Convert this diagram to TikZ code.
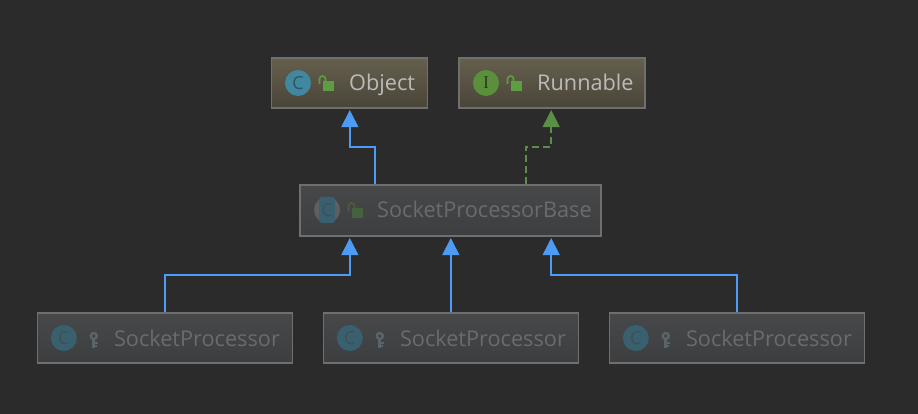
\documentclass[tikz,border=0pt]{standalone}
\usepackage{fontspec}
\setmainfont{Open Sans}
\usetikzlibrary{arrows.meta,calc}
\definecolor{bgdark}{HTML}{2B2B2B}
\definecolor{boxline}{HTML}{6F6F6F}
\definecolor{inhblue}{HTML}{4C9BF5}
\definecolor{impgreen}{HTML}{5B8F45}
\definecolor{lockgreen}{HTML}{5C9E41}
\definecolor{lockdim}{HTML}{47603F}
\definecolor{keydim}{HTML}{596569}
\definecolor{topa}{HTML}{655F4E}
\definecolor{topb}{HTML}{494537}
\definecolor{dima}{HTML}{47484A}
\definecolor{dimb}{HTML}{3C3E40}
\definecolor{clsteal}{HTML}{40879F}
\definecolor{clsink}{HTML}{2F5566}
\definecolor{ifgreen}{HTML}{5A8F3C}
\definecolor{ifink}{HTML}{2B3D20}
\definecolor{clsdim}{HTML}{38606F}
\definecolor{dimink}{HTML}{454E52}
\definecolor{badgegray}{HTML}{5E5F61}
\definecolor{namelight}{HTML}{BBBBBB}
\definecolor{namedim}{HTML}{6A6B6C}
\tikzset{
  classbox/.style={draw=boxline, line width=1.2pt, rectangle, minimum height=50pt, inner sep=0pt},
  topbox/.style={classbox, top color=topa, bottom color=topb},
  dimbox/.style={classbox, top color=dima, bottom color=dimb},
  nametext/.style={anchor=base west, inner sep=0pt, font=\fontsize{21.7}{25}\selectfont},
  badge/.style={circle, minimum size=26pt, inner sep=0pt, font=\fontsize{18}{18}\selectfont},
  extends/.style={draw=inhblue, line width=1.6pt, -{Triangle[length=17pt, width=17pt, fill=inhblue]}},
  realizes/.style={draw=impgreen, line width=1.6pt, dash pattern=on 7pt off 4pt, -{Triangle[length=17pt, width=17pt, fill=impgreen]}},
  pics/openlock/.style={code={
    \fill[#1] (0,-2) rectangle (11,8);
    \draw[#1, line width=1.6pt] (-3.5,1) -- (-3.5,-4) arc[start angle=-180, end angle=0, radius=3] -- (2.5,-2);
  }},
  pics/keyicon/.style={code={
    \draw[keydim, line width=2.4pt] (0,-3) circle[radius=3];
    \fill[keydim] (-1.5,0) rectangle (1.5,9);
    \fill[keydim] (1,3) rectangle (4.5,5);
    \fill[keydim] (1,6) rectangle (3.5,8);
  }}
}
\begin{document}
\begin{tikzpicture}[x=1pt, y=-1pt]
\useasboundingbox[fill=bgdark] (0,0) rectangle (918,414);
% upper row
\node[topbox, minimum width=156pt] (object) at (349.5,83) {};
\node[topbox, minimum width=186pt] (runnable) at (552,83) {};
\node[badge, fill=clsteal, text=clsink] (objectc) at (298,83) {C};
\node[badge, fill=ifgreen, text=ifink] (runnablei) at (486,83) {\fontspec{Liberation Serif}I};
\pic at (323,83) {openlock=lockgreen};
\pic at (511,83) {openlock=lockgreen};
\node[nametext, text=namelight] (objectname) at (349,91) {Object};
\node[nametext, text=namelight] (runnablename) at (537,91) {Runnable};
% middle
\node[dimbox, minimum width=301pt, minimum height=51pt] (base) at (450.5,210.5) {};
\fill[badgegray] (327,210) circle[radius=13];
\fill[clsdim, rounded corners=3pt] (319,197) rectangle (335,223);
\node[inner sep=0pt, font=\fontsize{18}{18}\selectfont, text=dimink] (basec) at (327,210) {C};
\pic at (352,210) {openlock=lockdim};
\node[nametext, text=namedim] (basename) at (377,218) {SocketProcessorBase};
% lower row
\foreach \n/\cx in {1/164.8, 2/450.8, 3/736.8} {
  \node[dimbox, minimum width=255pt] (sub\n) at (\cx,338) {};
  \node[badge, fill=clsdim, text=dimink] (subc\n) at (\cx-101,338) {C};
  \pic at (\cx-71,339) {keyicon};
  \node[nametext, text=namedim] (subname\n) at (\cx-51,346.5) {SocketProcessor};
}
% connectors
\coordinate (objectup) at ($(base.north)+(-75.5,0)$);
\coordinate (runnableup) at ($(base.north)+(75.5,0)$);
\coordinate (slotleft) at ($(base.south)+(-100.7,0)$);
\coordinate (slotright) at ($(base.south)+(100.7,0)$);
\draw[extends] (objectup) -- ($(objectup)+(0,-37.6)$) -| ($(slotleft |- object.south)+(0,1.5)$);
\draw[realizes] (runnableup) -- ($(runnableup)+(0,-37.6)$) -| ($(slotright |- runnable.south)+(0,1.5)$);
\draw[extends] (sub1.north) |- (164.8,274.9) -| ($(slotleft)+(0,1.5)$);
\draw[extends] (sub2.north) -- ($(sub2.north |- base.south)+(0,1.5)$);
\draw[extends] (sub3.north) |- (736.8,274.9) -| ($(slotright)+(0,1.5)$);
\end{tikzpicture}
\end{document}
